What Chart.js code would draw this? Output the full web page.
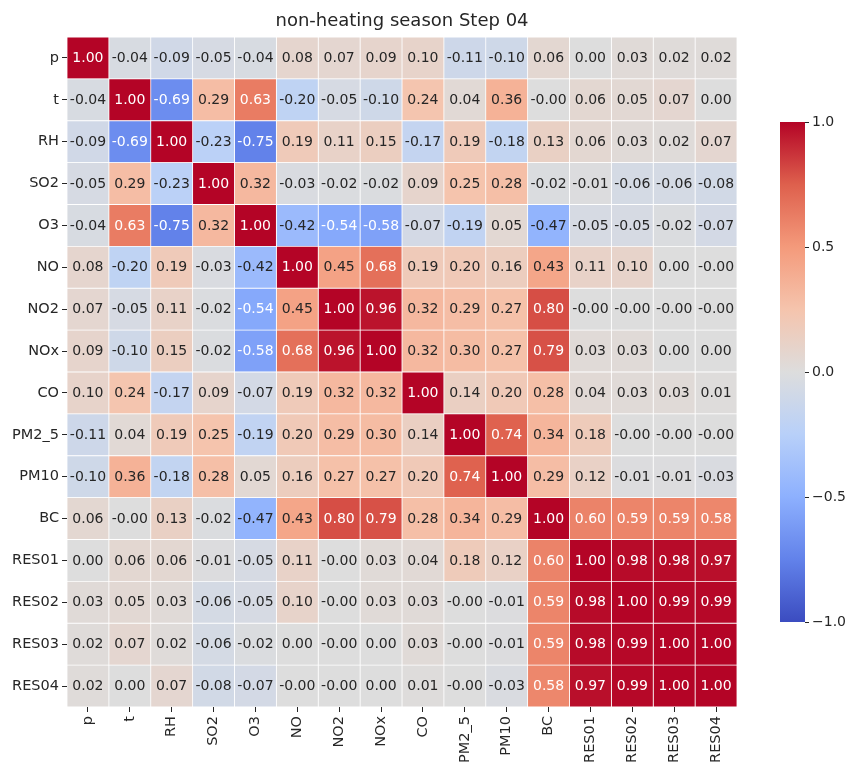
<!DOCTYPE html>
<html><head><meta charset="utf-8">
<script src="https://cdn.jsdelivr.net/npm/chart.js@4/dist/chart.umd.min.js"></script>
<style>
html,body{margin:0;padding:0;background:#fff;}
#wrap{position:relative;width:860px;height:782px;}
#main{position:absolute;left:0;top:0;}
#cbar{position:absolute;left:770px;top:100px;}
</style></head><body>
<div id="wrap"><canvas id="main" width="860" height="782"></canvas><canvas id="cbar" width="90" height="560"></canvas></div>
<script>
const chartTitle = 'non-heating season Step 04';
const variables = ['p','t','RH','SO2','O3','NO','NO2','NOx','CO','PM2_5','PM10','BC','RES01','RES02','RES03','RES04'];
// -0.001 marks values shown as "-0.00"
const row_p     = [1.00,-0.04,-0.09,-0.05,-0.04,0.08,0.07,0.09,0.10,-0.11,-0.10,0.06,0.00,0.03,0.02,0.02];
const row_t     = [-0.04,1.00,-0.69,0.29,0.63,-0.20,-0.05,-0.10,0.24,0.04,0.36,-0.001,0.06,0.05,0.07,0.00];
const row_RH    = [-0.09,-0.69,1.00,-0.23,-0.75,0.19,0.11,0.15,-0.17,0.19,-0.18,0.13,0.06,0.03,0.02,0.07];
const row_SO2   = [-0.05,0.29,-0.23,1.00,0.32,-0.03,-0.02,-0.02,0.09,0.25,0.28,-0.02,-0.01,-0.06,-0.06,-0.08];
const row_O3    = [-0.04,0.63,-0.75,0.32,1.00,-0.42,-0.54,-0.58,-0.07,-0.19,0.05,-0.47,-0.05,-0.05,-0.02,-0.07];
const row_NO    = [0.08,-0.20,0.19,-0.03,-0.42,1.00,0.45,0.68,0.19,0.20,0.16,0.43,0.11,0.10,0.00,-0.001];
const row_NO2   = [0.07,-0.05,0.11,-0.02,-0.54,0.45,1.00,0.96,0.32,0.29,0.27,0.80,-0.001,-0.001,-0.001,-0.001];
const row_NOx   = [0.09,-0.10,0.15,-0.02,-0.58,0.68,0.96,1.00,0.32,0.30,0.27,0.79,0.03,0.03,0.00,0.00];
const row_CO    = [0.10,0.24,-0.17,0.09,-0.07,0.19,0.32,0.32,1.00,0.14,0.20,0.28,0.04,0.03,0.03,0.01];
const row_PM2_5 = [-0.11,0.04,0.19,0.25,-0.19,0.20,0.29,0.30,0.14,1.00,0.74,0.34,0.18,-0.001,-0.001,-0.001];
const row_PM10  = [-0.10,0.36,-0.18,0.28,0.05,0.16,0.27,0.27,0.20,0.74,1.00,0.29,0.12,-0.01,-0.01,-0.03];
const row_BC    = [0.06,-0.001,0.13,-0.02,-0.47,0.43,0.80,0.79,0.28,0.34,0.29,1.00,0.60,0.59,0.59,0.58];
const row_RES01 = [0.00,0.06,0.06,-0.01,-0.05,0.11,-0.001,0.03,0.04,0.18,0.12,0.60,1.00,0.98,0.98,0.97];
const row_RES02 = [0.03,0.05,0.03,-0.06,-0.05,0.10,-0.001,0.03,0.03,-0.001,-0.01,0.59,0.98,1.00,0.99,0.99];
const row_RES03 = [0.02,0.07,0.02,-0.06,-0.02,0.00,-0.001,0.00,0.03,-0.001,-0.01,0.59,0.98,0.99,1.00,1.00];
const row_RES04 = [0.02,0.00,0.07,-0.08,-0.07,-0.001,-0.001,0.00,0.01,-0.001,-0.03,0.58,0.97,0.99,1.00,1.00];
const matrix = [row_p,row_t,row_RH,row_SO2,row_O3,row_NO,row_NO2,row_NOx,row_CO,row_PM2_5,row_PM10,row_BC,row_RES01,row_RES02,row_RES03,row_RES04];
const colorbarMin = -1, colorbarMax = 1, colorbarStep = 0.5;

// coolwarm colormap control colours (from -1 to 1)
const cmapStops = [[59,76,192],[98,130,234],[141,176,254],[184,208,249],[221,221,221],[245,196,173],[244,154,123],[222,96,77],[180,4,38]];
function cmapRGB(v){
  let t = (v - colorbarMin)/(colorbarMax - colorbarMin);
  t = Math.max(0, Math.min(1, t)) * (cmapStops.length - 1);
  const i = Math.min(Math.floor(t), cmapStops.length - 2), f = t - i;
  const a = cmapStops[i], b = cmapStops[i+1];
  return [0,1,2].map(k => a[k] + (b[k]-a[k])*f);
}
function coolwarm(v){ const c = cmapRGB(v); return `rgb(${c.map(Math.round).join(',')})`; }
function textColor(v){
  const c = cmapRGB(v).map(x => { x/=255; return x <= 0.03928 ? x/12.92 : Math.pow((x+0.055)/1.055, 2.4); });
  const lum = 0.2126*c[0] + 0.7152*c[1] + 0.0722*c[2];
  return lum > 0.408 ? '#262626' : '#ffffff';
}

const FONT = 'DejaVu Sans';
const TXT = '#262626';

const annotPlugin = {
  id: 'annot',
  afterDatasetsDraw(chart){
    const ctx = chart.ctx;
    ctx.save();
    ctx.font = `14px "${FONT}"`;
    ctx.textAlign = 'center';
    ctx.textBaseline = 'middle';
    chart.data.datasets.forEach((ds, j) => {
      chart.getDatasetMeta(j).data.forEach((el, i) => {
        const v = matrix[i][j];
        ctx.fillStyle = textColor(v);
        ctx.fillText(v.toFixed(2), (el.x + el.base)/2, el.y + 0.5);
      });
    });
    ctx.restore();
  },
  afterDraw(chart){
    const ctx = chart.ctx, a = chart.chartArea;
    ctx.save();
    ctx.font = `18px "${FONT}"`;
    ctx.fillStyle = TXT;
    ctx.textAlign = 'center';
    ctx.textBaseline = 'middle';
    ctx.fillText(chartTitle, (a.left + a.right)/2, 21);
    ctx.restore();
  }
};

const datasets = variables.map((col, j) => ({
  label: col,
  data: variables.map(() => 1),
  backgroundColor: matrix.map(r => coolwarm(r[j])),
  borderColor: '#ffffff',
  borderWidth: 0.75,
  borderSkipped: false,
  barPercentage: 1,
  categoryPercentage: 1,
  stack: 'cells'
}));

const axisGrid = {drawOnChartArea:false, drawTicks:true, tickLength:5, color:TXT, offset:false};

new Chart(document.getElementById('main'), {
  type: 'bar',
  data: { labels: variables, datasets },
  options: {
    indexAxis: 'y',
    responsive: false,
    animation: false,
    layout: { padding: { top: 37, right: 123, left: 0, bottom: 0 } },
    plugins: { legend: {display:false}, tooltip: {enabled:false}, title: {display:false} },
    scales: {
      y: {
        type: 'category', stacked: true, offset: true,
        grid: axisGrid, border: {display:false},
        ticks: { color: TXT, font: {family: FONT, size: 14.5}, padding: 3, autoSkip: false },
        afterFit: s => { s.width = 67; }
      },
      x: { type: 'linear', stacked: true, min: 0, max: variables.length, display: false },
      xLab: {
        type: 'category', labels: variables, position: 'bottom', offset: true,
        grid: axisGrid, border: {display:false},
        ticks: { color: TXT, font: {family: FONT, size: 14.5}, padding: 4, autoSkip: false, minRotation: 90, maxRotation: 90 },
        afterFit: s => { s.height = 75; }
      }
    }
  },
  plugins: [annotPlugin]
});

new Chart(document.getElementById('cbar'), {
  type: 'bar',
  data: { labels: ['colorbar'], datasets: [{
    data: [[colorbarMin, colorbarMax]],
    backgroundColor: (c) => {
      const a = c.chart.chartArea;
      if (!a) return coolwarm(0);
      const g = c.chart.ctx.createLinearGradient(0, a.bottom, 0, a.top);
      cmapStops.forEach((s, k) => g.addColorStop(k/(cmapStops.length-1), `rgb(${s.join(',')})`));
      return g;
    },
    borderWidth: 0, barPercentage: 1, categoryPercentage: 1
  }]},
  options: {
    responsive: false, animation: false,
    layout: { padding: { left: 10, top: 22, bottom: 38, right: 0 } },
    plugins: { legend: {display:false}, tooltip: {enabled:false} },
    scales: {
      x: { display: false },
      y: {
        position: 'right', min: colorbarMin, max: colorbarMax,
        grid: {drawOnChartArea:false, drawTicks:true, tickLength:4, color:TXT},
        border: {display:false},
        ticks: { stepSize: colorbarStep, color: TXT, font: {family: FONT, size: 14}, padding: 3,
          callback: v => (v < 0 ? '\u2212' : '') + Math.abs(v).toFixed(1) },
        afterFit: s => { s.width = 55; }
      }
    }
  }
});
</script>
</body></html>
